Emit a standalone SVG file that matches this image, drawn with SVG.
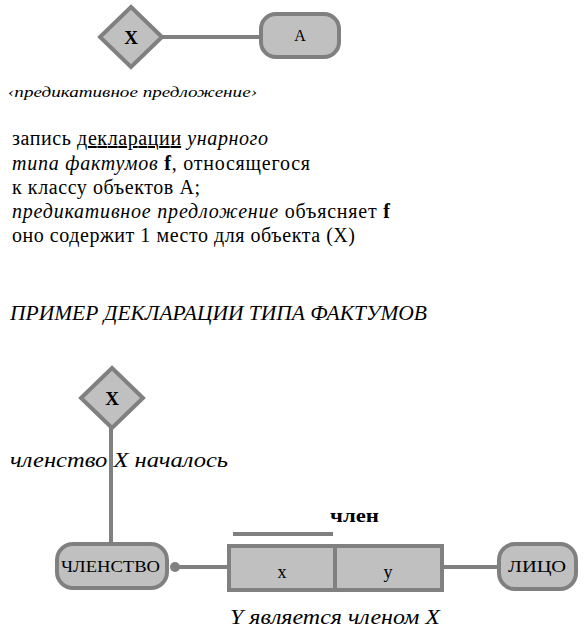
<svg xmlns="http://www.w3.org/2000/svg" width="584" height="636" viewBox="0 0 584 636">
<style>
text{font-family:"Liberation Serif","DejaVu Serif",serif;fill:#000}
.shape{fill:#c0c0c0;stroke:#808080;stroke-width:4}
.conn{stroke:#808080;stroke-width:4;fill:none}
.it{font-style:italic}
.b{font-weight:bold}
</style>
<rect width="584" height="636" fill="#fff"/>
<text x="8" y="97" font-size="15" class="it" textLength="249" lengthAdjust="spacingAndGlyphs">‹предикативное предложение›</text>
<g font-size="20">
<text x="12" y="145" textLength="256">запись <tspan text-decoration="underline">декларации</tspan> <tspan class="it">унарного</tspan></text>
<text x="12" y="170" textLength="298"><tspan class="it">типа фактумов</tspan> <tspan class="b">f</tspan>, относящегося</text>
<text x="12" y="194" textLength="188">к классу объектов A;</text>
<text x="12" y="218" textLength="378"><tspan class="it">предикативное предложение</tspan> объясняет <tspan class="b">f</tspan></text>
<text x="12" y="242" textLength="343">оно содержит 1 место для объекта (X)</text>
</g>
<text x="10" y="320" font-size="22" class="it" textLength="417" lengthAdjust="spacingAndGlyphs">ПРИМЕР ДЕКЛАРАЦИИ ТИПА ФАКТУМОВ</text>
<text x="10" y="467" font-size="21" class="it" textLength="218" lengthAdjust="spacingAndGlyphs">членство X началось</text>
<text x="230" y="624" font-size="21" class="it" textLength="210" lengthAdjust="spacingAndGlyphs">Y является членом X</text>
<g id="connectors">
<line class="conn" x1="163" y1="37" x2="262" y2="37"/>
<line class="conn" x1="111" y1="428" x2="111" y2="544"/>
<line class="conn" x1="175" y1="567" x2="230" y2="567"/>
<circle cx="175" cy="567" r="5" fill="#808080"/>
<line class="conn" x1="443" y1="567" x2="500" y2="567"/>
<line class="conn" x1="233" y1="534" x2="333" y2="534"/>
</g>
<g id="diamondX1">
<polygon class="shape" points="131,7 162,37 131,67 100,37"/>
<text x="131" y="44" font-size="19" class="b" text-anchor="middle">X</text>
</g>
<g id="entityA">
<rect class="shape" x="261" y="14" width="78" height="43" rx="15"/>
<text x="300" y="41" font-size="16" text-anchor="middle">A</text>
</g>
<g id="diamondX2">
<polygon class="shape" points="112,368 143,398 112,428 81,398"/>
<text x="112" y="405" font-size="19" class="b" text-anchor="middle">X</text>
</g>
<g id="membership">
<rect class="shape" x="57" y="544" width="110" height="44" rx="16"/>
<text x="61" y="572" font-size="16" textLength="99" lengthAdjust="spacingAndGlyphs">ЧЛЕНСТВО</text>
</g>
<g id="factType">
<rect class="shape" x="229" y="546" width="213" height="44"/>
<line class="conn" x1="335" y1="546" x2="335" y2="590"/>
<text x="282" y="578" font-size="18" text-anchor="middle">x</text>
<text x="388" y="578" font-size="18" text-anchor="middle">y</text>
<text x="330" y="522" font-size="19" class="b" textLength="49" lengthAdjust="spacingAndGlyphs">член</text>
</g>
<g id="person">
<rect class="shape" x="499" y="544" width="77" height="45" rx="16"/>
<text x="508" y="572" font-size="16" textLength="58" lengthAdjust="spacingAndGlyphs">ЛИЦО</text>
</g>
</svg>
